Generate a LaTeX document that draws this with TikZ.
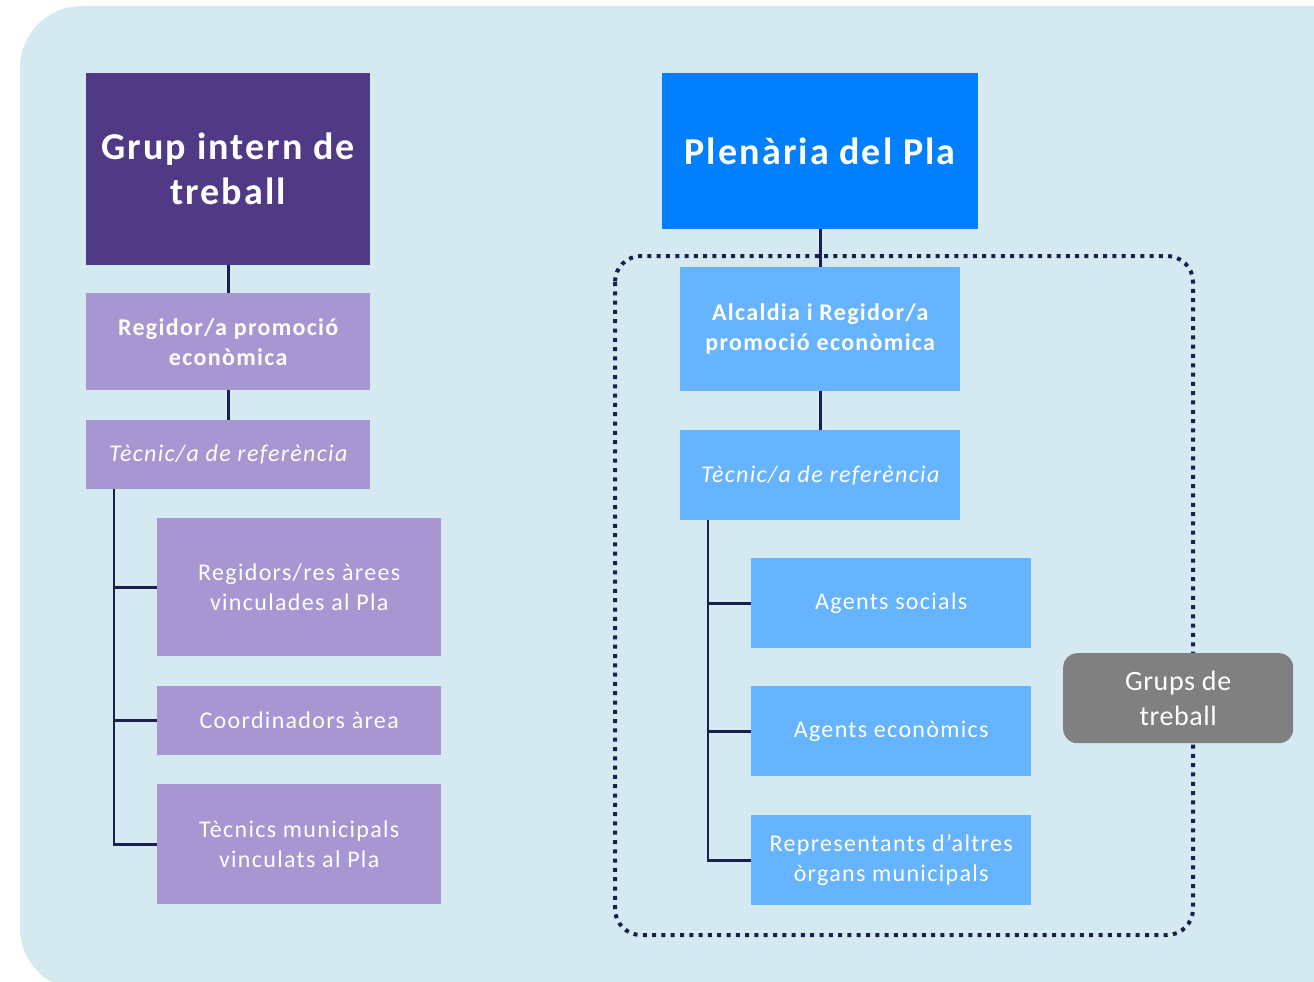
\documentclass[tikz,border=0pt]{standalone}
\usepackage{fontspec}
\setmainfont{Carlito}[LetterSpace=5.5]
\newfontfamily\grupsfont{Carlito}[LetterSpace=2]
\definecolor{bgc}{HTML}{D5EAF0}
\definecolor{darkpurple}{HTML}{503A86}
\definecolor{lightpurple}{HTML}{A896D2}
\definecolor{strongblue}{HTML}{0080FF}
\definecolor{lightblue}{HTML}{66B3FF}
\definecolor{navy}{HTML}{1A1F50}
\definecolor{greybox}{HTML}{808080}
\begin{document}
\begin{tikzpicture}[x=1pt,y=-1pt,
  boxbase/.style={anchor=north west, inner sep=0pt, align=center, text=white},
  bigtitle/.style={boxbase, font=\fontsize{38}{45}\selectfont\bfseries},
  midbold/.style={boxbase, font=\fontsize{24}{30}\selectfont\bfseries},
  plain/.style={boxbase, font=\fontsize{24}{29.5}\selectfont},
  italicbox/.style={boxbase, font=\fontsize{24}{29}\selectfont\itshape},
  conn/.style={draw=navy, line width=2.6pt},
]
\useasboundingbox (0,0) rectangle (1314,982);
\begin{scope}
\clip (0,0) rectangle (1314,982);
\fill[bgc, rounded corners=62pt] (20,6) rectangle (1376,990);
\end{scope}

% Left column
\node[bigtitle, fill=darkpurple, minimum width=284pt, minimum height=192pt] (git) at (86,73) {Grup intern de\\treball};
\node[midbold, fill=lightpurple, minimum width=284pt, minimum height=97pt] (reg) at (86,293) {Regidor/a promoció\\econòmica};
\node[italicbox, fill=lightpurple, minimum width=284pt, minimum height=69pt] (tecl) at (86,420) {Tècnic/a de referència};
\node[plain, fill=lightpurple, minimum width=284pt, minimum height=138pt] (regs) at (157,518) {Regidors/res àrees\\vinculades al Pla};
\node[plain, fill=lightpurple, minimum width=284pt, minimum height=69pt] (coord) at (157,686) {Coordinadors àrea};
\node[plain, fill=lightpurple, minimum width=284pt, minimum height=120pt] (tecm) at (157,784) {Tècnics municipals\\vinculats al Pla};

\draw[conn] (git.south) -- (reg.north);
\draw[conn] (reg.south) -- (tecl.north);
\coordinate (lt) at (114,489);
\draw[conn] (lt) |- (tecm.west);
\draw[conn] (lt |- regs.west) -- (regs.west);
\draw[conn] (lt |- coord.west) -- (coord.west);

% Right column
\draw[navy, line width=4pt, dash pattern=on 4pt off 5.3pt, rounded corners=26pt] (615,256) rectangle (1193,935);

\node[bigtitle, fill=strongblue, minimum width=316pt, minimum height=156pt] (plen) at (662,73) {Plenària del Pla};
\node[midbold, fill=lightblue, minimum width=280pt, minimum height=124pt] (alc) at (680,267) {Alcaldia i Regidor/a\\promoció econòmica};
\node[italicbox, fill=lightblue, minimum width=280pt, minimum height=90pt] (tecr) at (680,430) {Tècnic/a de referència};
\node[plain, fill=lightblue, minimum width=280pt, minimum height=90pt] (asoc) at (751,558) {Agents socials};
\node[plain, fill=lightblue, minimum width=280pt, minimum height=90pt] (aeco) at (751,686) {Agents econòmics};
\node[plain, fill=lightblue, minimum width=280pt, minimum height=90pt] (repr) at (751,815) {Representants d’altres\\òrgans municipals};

\draw[conn] (plen.south) -- (alc.north);
\draw[conn] (alc.south) -- (tecr.north);
\coordinate (rt) at (708,520);
\draw[conn] (rt) |- (repr.west);
\draw[conn] (rt |- asoc.west) -- (asoc.west);
\draw[conn] (rt |- aeco.west) -- (aeco.west);

\node[boxbase, fill=greybox, rounded corners=14pt, minimum width=230pt, minimum height=90pt, font=\fontsize{28}{35}\selectfont\grupsfont] (grups) at (1063,653) {Grups de\\treball};
\end{tikzpicture}
\end{document}
